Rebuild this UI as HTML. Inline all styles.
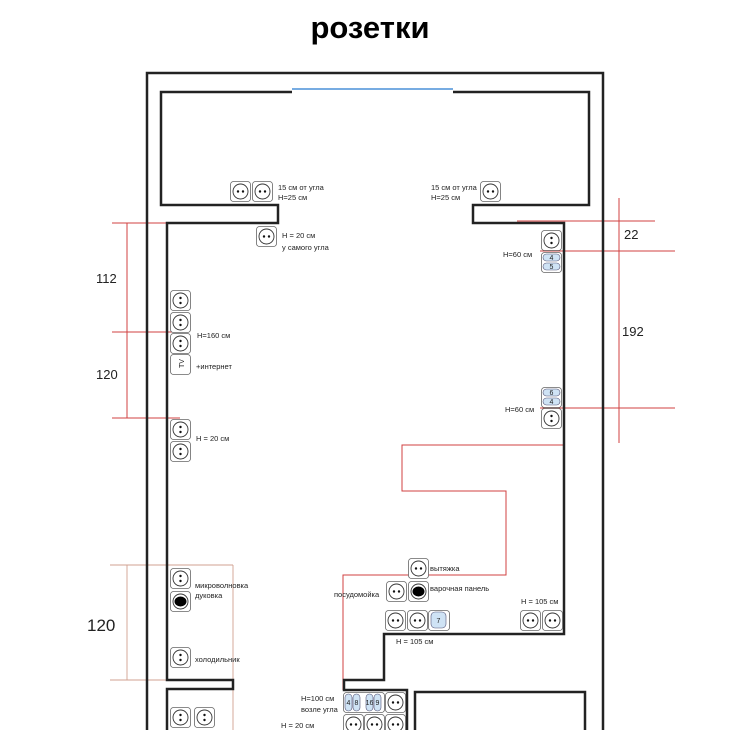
<!DOCTYPE html>
<html><head><meta charset="utf-8"><style>
body{margin:0;background:#fff;width:745px;height:730px;overflow:hidden}
svg{display:block}
text{font-family:"Liberation Sans","DejaVu Sans",sans-serif;fill:#222}
.s{font-size:7.5px}
</style></head><body>
<svg width="745" height="730" viewBox="0 0 745 730" xmlns="http://www.w3.org/2000/svg">
<defs>
<symbol id="h" viewBox="0 0 21 21" width="21" height="21"><rect x="0.5" y="0.5" width="20" height="20" rx="3" fill="#fff" stroke="#666" stroke-width="0.8"/><circle cx="10.5" cy="10.5" r="7.5" fill="none" stroke="#333" stroke-width="0.9"/><circle cx="8" cy="10.5" r="1.2" fill="#111"/><circle cx="13" cy="10.5" r="1.2" fill="#111"/></symbol>
<symbol id="v" viewBox="0 0 21 21" width="21" height="21"><rect x="0.5" y="0.5" width="20" height="20" rx="3" fill="#fff" stroke="#666" stroke-width="0.8"/><circle cx="10.5" cy="10.5" r="7.5" fill="none" stroke="#333" stroke-width="0.9"/><circle cx="10.5" cy="8" r="1.2" fill="#111"/><circle cx="10.5" cy="13" r="1.2" fill="#111"/></symbol>
<symbol id="b" viewBox="0 0 21 21" width="21" height="21"><rect x="0.5" y="0.5" width="20" height="20" rx="3" fill="#fff" stroke="#666" stroke-width="0.8"/><circle cx="10.5" cy="10.5" r="7.5" fill="none" stroke="#333" stroke-width="0.9"/><ellipse cx="10.5" cy="10.5" rx="6" ry="5" fill="#000"/></symbol>
</defs>
<text x="370" y="38" text-anchor="middle" style="font-size:31px;font-weight:bold;fill:#000">розетки</text>

<g stroke="#d04040" stroke-width="1" fill="none">
<line x1="127" y1="223" x2="127" y2="418"/>
<line x1="112" y1="223" x2="180" y2="223"/>
<line x1="112" y1="332" x2="180" y2="332"/>
<line x1="112" y1="418" x2="180" y2="418"/>
<line x1="619" y1="198" x2="619" y2="443"/>
<line x1="517" y1="221" x2="655" y2="221"/>
<line x1="540" y1="251" x2="675" y2="251"/>
<line x1="540" y1="408" x2="675" y2="408"/>
<polyline points="564,445 402,445 402,491 506,491 506,575 343,575 343,690"/>
<line x1="585" y1="692" x2="585" y2="730"/>
</g>
<g stroke="#d0a090" stroke-width="0.9" fill="none">
<line x1="127" y1="565" x2="127" y2="680"/>
<line x1="110" y1="565" x2="233" y2="565"/>
<line x1="110" y1="680" x2="233" y2="680"/>
<line x1="233" y1="565" x2="233" y2="730"/>
</g>

<g stroke="#222" stroke-width="2.5" fill="none">
<polyline points="147,730 147,73 603,73 603,730"/>
<polyline points="292,92 161,92 161,205 278,205 278,223 167,223 167,680 233,680 233,689 167,689 167,730"/>
<polyline points="453,92 589,92 589,205 473,205 473,223 564,223 564,634 384,634 384,680 344,680 344,690 407,690 407,730"/>
<polyline points="415,730 415,692 585,692 585,730"/>
</g>
<line x1="292" y1="89" x2="453" y2="89" stroke="#4a90d9" stroke-width="1.5"/>

<use href="#h" x="230" y="181"/><use href="#h" x="252" y="181"/>
<text class="s" x="278" y="190">15 см от угла</text><text class="s" x="278" y="200">H=25 см</text>
<use href="#h" x="480" y="181"/>
<text class="s" x="431" y="190">15 см от угла</text><text class="s" x="431" y="200">H=25 см</text>
<use href="#h" x="256" y="226"/>
<text class="s" x="282" y="238">H = 20 см</text><text class="s" x="282" y="250">у самого угла</text>

<use href="#v" x="541" y="230"/>
<rect x="541.5" y="252.5" width="20" height="20" rx="3" fill="#fff" stroke="#666" stroke-width="0.8"/>
<rect x="543" y="254" width="17" height="7" rx="3.5" fill="#cfe3f5" stroke="#557" stroke-width="0.6"/>
<rect x="543" y="263" width="17" height="7" rx="3.5" fill="#cfe3f5" stroke="#557" stroke-width="0.6"/>
<text x="551.5" y="260" text-anchor="middle" style="font-size:7px">4</text><text x="551.5" y="269" text-anchor="middle" style="font-size:7px">5</text>
<text class="s" x="503" y="257">H=60 см</text>

<rect x="541.5" y="387.5" width="20" height="20" rx="3" fill="#fff" stroke="#666" stroke-width="0.8"/>
<rect x="543" y="389" width="17" height="7" rx="3.5" fill="#cfe3f5" stroke="#557" stroke-width="0.6"/>
<rect x="543" y="398" width="17" height="7" rx="3.5" fill="#cfe3f5" stroke="#557" stroke-width="0.6"/>
<text x="551.5" y="395" text-anchor="middle" style="font-size:7px">6</text><text x="551.5" y="404" text-anchor="middle" style="font-size:7px">4</text>
<use href="#v" x="541" y="408"/>
<text class="s" x="505" y="412">H=60 см</text>

<use href="#v" x="170" y="290"/><use href="#v" x="170" y="312"/><use href="#v" x="170" y="333"/>
<rect x="170.5" y="354.5" width="20" height="20" rx="3" fill="#fff" stroke="#666" stroke-width="0.8"/>
<text x="0" y="0" transform="translate(184,368) rotate(-90)" style="font-size:7px">TV</text>
<text class="s" x="197" y="338">H=160 см</text><text class="s" x="196" y="369">+интернет</text>
<use href="#v" x="170" y="419"/><use href="#v" x="170" y="441"/>
<text class="s" x="196" y="441">H = 20 см</text>

<use href="#v" x="170" y="568"/><use href="#b" x="170" y="591"/>
<text class="s" x="195" y="588">микроволновка</text><text class="s" x="195" y="598">дуковка</text>
<use href="#v" x="170" y="647"/>
<text class="s" x="195" y="662">холодильник</text>

<use href="#h" x="408" y="558"/><text class="s" x="430" y="571">вытяжка</text>
<use href="#h" x="386" y="581"/><use href="#b" x="408" y="581"/>
<text class="s" x="334" y="597">посудомойка</text><text class="s" x="430" y="591">варочная панель</text>
<use href="#h" x="385" y="610"/><use href="#h" x="407" y="610"/>
<rect x="428.5" y="610.5" width="21" height="20" rx="3" fill="#fff" stroke="#666" stroke-width="0.8"/>
<rect x="431" y="612" width="15" height="16" rx="4" fill="#cfe3f5" stroke="#557" stroke-width="0.6"/>
<text x="438.5" y="623" text-anchor="middle" style="font-size:7px">7</text>
<text class="s" x="396" y="644">H = 105 см</text>
<use href="#h" x="520" y="610"/><use href="#h" x="542" y="610"/>
<text class="s" x="521" y="604">H = 105 см</text>

<rect x="343.5" y="692.5" width="41" height="20" rx="3" fill="#fff" stroke="#666" stroke-width="0.8"/>
<g fill="#cfe3f5" stroke="#557" stroke-width="0.6">
<rect x="345" y="694" width="7" height="17" rx="3.5"/><rect x="353" y="694" width="7" height="17" rx="3.5"/>
<rect x="366" y="694" width="7" height="17" rx="3.5"/><rect x="374" y="694" width="7" height="17" rx="3.5"/></g>
<g style="font-size:7px" text-anchor="middle"><text x="348.5" y="705">4</text><text x="356.5" y="705">8</text><text x="369.5" y="705">16</text><text x="377.5" y="705">9</text></g>
<use href="#h" x="385" y="692"/>
<text class="s" x="301" y="701">H=100 см</text><text class="s" x="301" y="712">возле угла</text>
<use href="#h" x="343" y="714"/><use href="#h" x="364" y="714"/><use href="#h" x="385" y="714"/>
<text class="s" x="281" y="728">H = 20 см</text>
<use href="#v" x="170" y="707"/><use href="#v" x="194" y="707"/>

<g style="font-size:13px">
<text x="96" y="283">112</text><text x="96" y="379">120</text>
<text x="624" y="239">22</text><text x="622" y="336">192</text>
</g>
<text x="87" y="631" style="font-size:17px">120</text>
</svg>
</body></html>
